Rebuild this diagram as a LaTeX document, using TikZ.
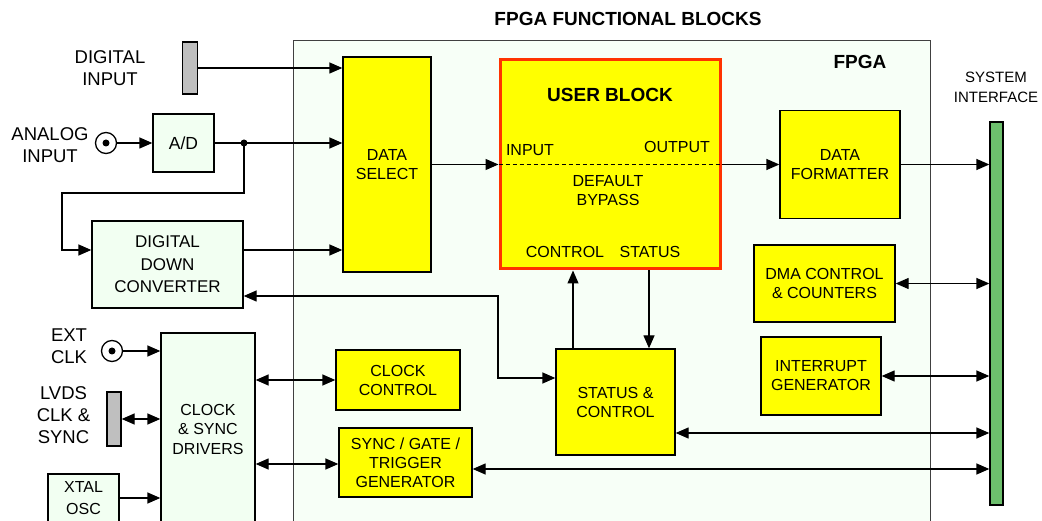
\documentclass[tikz,border=0pt]{standalone}
\usepackage{fontspec}
\setmainfont{Liberation Sans}
\usetikzlibrary{arrows.meta}
\definecolor{fpgabg}{HTML}{F7FFF7}
\definecolor{boxbg}{HTML}{F2FFF2}
\definecolor{ubred}{HTML}{FF3300}
\definecolor{busgreen}{HTML}{6DBF6D}
\definecolor{portgray}{HTML}{BFBFBF}
\definecolor{blkyellow}{HTML}{FFFF00}

\begin{document}
\begin{tikzpicture}[x=1pt,y=-1pt,line width=1.3pt,
   >={Triangle[length=13pt,width=11pt]},
   blk/.style={draw,fill=blkyellow,inner sep=0pt,align=center,font=\fontsize{16}{19}\selectfont},
   gblk/.style={draw,fill=boxbg,inner sep=0pt,align=center,font=\fontsize{16}{19}\selectfont},
   lbl/.style={align=center,font=\fontsize{18.5}{22}\selectfont},
   txt/.style={inner sep=0pt,font=\fontsize{16}{19}\selectfont},
   hdr/.style={inner sep=0pt,font=\bfseries\fontsize{19}{22}\selectfont},
   port/.style={draw,fill=portgray,inner sep=0pt,minimum width=15pt,minimum height=52pt},
   jack/.style={circle,draw,inner sep=0pt,minimum size=21pt}]
   \useasboundingbox (0,0) rectangle (1042,521);
   \clip (0,0) rectangle (1042,521);

   % FPGA area
   \node[draw=black!75,fill=fpgabg,inner sep=0pt,anchor=north west,
         minimum width=637pt,minimum height=520pt] (fpga) at (293,40) {};
   \node[hdr] (title) at (628,19) {FPGA FUNCTIONAL BLOCKS};
   \node[hdr] (fpgalbl) at (860,62) {FPGA};

   % inputs
   \node[port] (din) at (190,68) {};
   \node[lbl] (dinlbl) at (110,68) {DIGITAL\\INPUT};
   \node[jack] (ain) at (106,143) {};
   \fill (ain) circle (3.5);
   \node[lbl] (ainlbl) at (50,145) {ANALOG\\INPUT};
   \node[gblk,font=\fontsize{17.5}{22}\selectfont,minimum width=61pt,minimum height=58pt] (adc) at (183.5,143) {A/D};
   \node[gblk,font=\fontsize{17}{22.5}\selectfont,minimum width=151pt,minimum height=87pt] (ddc) at (167.5,264.5) {DIGITAL\\DOWN\\CONVERTER};

   \node[jack] (ext) at (112,351) {};
   \fill (ext) circle (3.5);
   \node[lbl] (extlbl) at (69,346) {EXT\\CLK};
   \node[port,minimum width=14pt,minimum height=54pt] (lvds) at (114,419) {};
   \node[lbl] (lvdslbl) at (63.5,415) {LVDS\\CLK \&\\SYNC};
   \node[gblk,font=\fontsize{16}{22}\selectfont,minimum width=71pt,minimum height=48pt] (xtal) at (83.5,498) {XTAL\\OSC};
   \node[gblk,font=\fontsize{16}{19.5}\selectfont,minimum width=94pt,minimum height=192pt] (drv) at (208,429) {CLOCK\\\& SYNC\\DRIVERS};

   % FPGA blocks
   \node[blk,minimum width=88pt,minimum height=215pt] (dsel) at (387,164.5) {DATA\\SELECT};
   \node[blk,draw=ubred,line width=3pt,minimum width=220pt,minimum height=209pt] (ub) at (610,164.5) {};
   \node[hdr] (ubt) at (610,95) {USER BLOCK};
   \node[txt] (ubin) at (530,150) {INPUT};
   \node[txt] (ubout) at (677,147) {OUTPUT};
   \node[txt,align=center] (ubbyp) at (608,191) {DEFAULT\\BYPASS};
   \node[txt] (ubctl) at (565,252) {CONTROL};
   \node[txt] (ubsts) at (650,252) {STATUS};
   \node[blk,minimum width=120pt,minimum height=108pt] (df) at (840,164.5) {DATA\\FORMATTER};
   \node[blk,minimum width=141pt,minimum height=77pt] (dma) at (824.5,283.5) {DMA CONTROL\\\& COUNTERS};
   \node[blk,minimum width=120pt,minimum height=78pt] (irq) at (821,376) {INTERRUPT\\GENERATOR};
   \node[blk,minimum width=119pt,minimum height=106pt] (sc) at (615.5,402) {STATUS \&\\CONTROL};
   \node[blk,minimum width=124pt,minimum height=60pt] (clk) at (398,380) {CLOCK\\CONTROL};
   \node[blk,minimum width=133pt,minimum height=69pt] (sync) at (405.5,462.5) {SYNC / GATE /\\TRIGGER\\GENERATOR};

   % system interface
   \node[draw,fill=busgreen,inner sep=0pt,minimum width=13pt,minimum height=383pt] (sys) at (996.5,313.5) {};
   \node[lbl,font=\fontsize{15}{20}\selectfont] (syslbl) at (996,87) {SYSTEM\\INTERFACE};

   % connectors
   \coordinate (tap) at (244,143);
   \draw[->] (din.east) -- (din.east -| dsel.west);
   \draw[->] (ain) -- (adc);
   \draw (adc) -- (tap);
   \draw[->] (tap) -- (tap -| dsel.west);
   \fill (tap) circle (3.5);
   \draw[->] (tap) |- (62,193) |- (ddc.west |- 0,250);
   \draw[->] (ddc.east |- 0,250) -- (dsel.west |- 0,250);
   \draw[<->] (ddc.east |- 0,296) -- (498,296) |- (sc.west |- 0,378);
   \draw[->] (dsel.east) -- (ub.west);
   \draw[line width=1pt,dash pattern=on 4pt off 3pt] (ub.west) -- (ub.east);
   \draw[->] (ub.east) -- (df.west);
   \draw[->] (df.east) -- (df.east -| sys.west);
   \draw[<->] (dma.east) -- (dma.east -| sys.west);
   \draw[<->] (irq.east) -- (irq.east -| sys.west);
   \draw[<->] (sc.east |- 0,433) -- (sys.west |- 0,433);
   \draw[<->] (sync.east |- 0,469) -- (sys.west |- 0,469);
   \draw[->] (sc.north -| 573,0) -- (ub.south -| 573,0);
   \draw[->] (ub.south -| 649,0) -- (sc.north -| 649,0);
   \draw[<->] (drv.east |- clk.west) -- (clk.west);
   \draw[<->] (drv.east |- 0,464) -- (sync.west |- 0,464);
   \draw[->] (ext) -- (ext -| drv.west);
   \draw[<->] (lvds.east) -- (lvds.east -| drv.west);
   \draw[->] (xtal.east) -- (xtal.east -| drv.west);
\end{tikzpicture}
\end{document}
